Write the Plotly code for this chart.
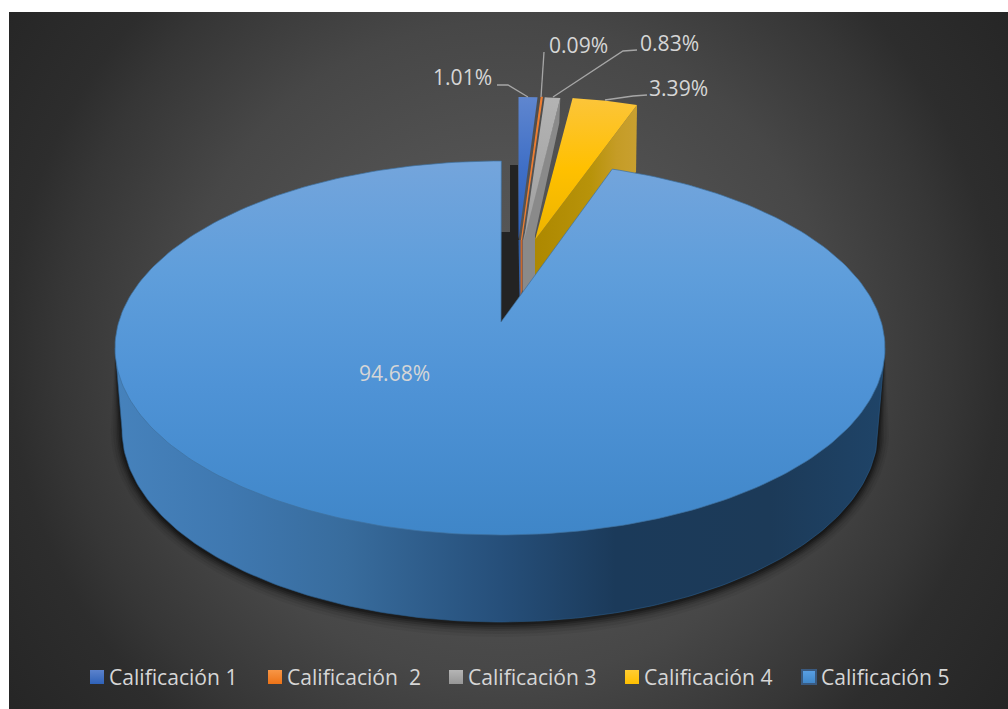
import numpy as np
import plotly.graph_objects as go

categories = ["Calificación 1", "Calificación  2", "Calificación 3", "Calificación 4", "Calificación 5"]
values = [1.01, 0.09, 0.83, 3.39, 94.68]

W, H = 1008, 709
FONT = "Open Sans"
TXT = "#d6d6d6"
FS = 21.1

# pie projection parameters
CX, CY, RX, RY = 500, 348, 385, 187           # top ellipse of the main slice
BCY, BRX, BRY = 430, 378, 192                 # bottom ellipse
MAIN_APEX = (501, 322)
PERSP = 0.885                                  # perspective squeeze of the opening
EXP_RX, EXP_RY = 300, 143                      # far (exploded) slices
GOLD_RX = 311
APEX = [(518.5, 240), (521.5, 240), (524, 240), (535, 240)]
DEPTH = 67

cum = np.cumsum([0] + values) / 100 * 360


def arc(cx, cy, rx, ry, a0, a1, n=120):
    t = np.radians(np.linspace(a0, a1, n))
    return cx + rx * np.sin(t), cy - ry * np.cos(t)


fig = go.Figure()


def poly(xs, ys, color=None, grad=None, gtype="vertical", line=None, lw=0):
    d = dict(x=list(xs) + [xs[0]], y=list(ys) + [ys[0]], mode="lines", fill="toself",
             hoverinfo="skip", showlegend=False,
             line=dict(width=lw, color=line or "rgba(0,0,0,0)"))
    if grad:
        if gtype == "vertical":       # given top to bottom; plotly's 0 is at the bottom
            grad = [[1 - p, c] for p, c in reversed(grad)]
        d["fillgradient"] = dict(type=gtype, colorscale=grad)
    else:
        d["fillcolor"] = color
    fig.add_trace(go.Scatter(**d))


# background: square bounding box gives a circular gradient, clipped by the plot area
BGX, BGY, BGR = 505, 350, 620
poly([BGX - BGR, BGX + BGR, BGX + BGR, BGX - BGR], [BGY - BGR, BGY - BGR, BGY + BGR, BGY + BGR],
     grad=[[0, "#5a5a5a"], [0.3, "#525252"], [0.53, "#474747"], [0.72, "#363636"],
           [0.8, "#2d2d2d"], [1, "#252525"]], gtype="radial")

# soft shadow
for k, a in zip([14, 11, 8, 6, 4, 2], [0.05, 0.08, 0.11, 0.15, 0.2, 0.25]):
    sx, sy = arc(CX, BCY + 1, BRX + k * 0.8, BRY + k, 90, 270)
    poly(np.r_[CX + RX, sx, CX - RX], np.r_[CY, sy, CY], color=f"rgba(0,0,0,{a})")

# shadow strip behind the opening
ax, ay = MAIN_APEX
poly([ax + 9, ax + 17, ax + 19, ax, ax, ax + 9],
     [ay - 157, ay - 157, ay - 25, ay, ay - 90, ay - 90], color="#232323")

# slice 1 (blue)
bx, by = arc(*APEX[0], EXP_RX, EXP_RY, cum[0], cum[1], 6)
poly([APEX[0][0], APEX[0][0] + 1, APEX[0][0] + 4, APEX[0][0] + 4],
     [APEX[0][1], APEX[0][1] + 57, APEX[0][1] + 50, APEX[0][1]], color="#2f5fa8")
poly(np.r_[APEX[0][0], bx], np.r_[APEX[0][1], by],
     grad=[[0, "#5f86cf"], [0.5, "#3f6fc6"], [1, "#2c62be"]])

# slice 3 (gray) side then top
gx, gy = arc(*APEX[2], EXP_RX, EXP_RY, cum[2], cum[3], 6)
poly([gx[-1], gx[-1] - 1, APEX[3][0], APEX[3][0], APEX[2][0] - 1, APEX[2][0] - 1],
     [gy[-1], gy[-1] + 25, APEX[3][1] - 5, APEX[3][1] + 40, APEX[2][1] + 60, APEX[2][1]],
     color="#8a8a8a")
poly(np.r_[APEX[2][0], gx], np.r_[APEX[2][1], gy],
     grad=[[0, "#b3b3b3"], [1, "#a0a0a0"]])

# slice 2 (orange)
ox, oy = arc(*APEX[1], EXP_RX, EXP_RY, cum[1], cum[2], 6)
poly([APEX[1][0] - 1, APEX[1][0] - 1, APEX[1][0] + 1, APEX[1][0] + 1],
     [APEX[1][1], APEX[1][1] + 56, APEX[1][1] + 50, APEX[1][1]], color="#c8692a")
poly(np.r_[APEX[1][0], ox], np.r_[APEX[1][1], oy], color="#ed7d31", line="#ed7d31", lw=1.2)

# slice 4 (gold) side then top
yx, yy = arc(*APEX[3], GOLD_RX, EXP_RY, cum[3], cum[4], 40)
poly([yx[-1], yx[-1] - 1, APEX[3][0], APEX[3][0]],
     [yy[-1], yy[-1] + DEPTH, APEX[3][1] + DEPTH, APEX[3][1]],
     grad=[[0, "#ad8800"], [0.55, "#b8930a"], [0.8, "#c59c26"], [1, "#c9a030"]], gtype="horizontal")
poly(np.r_[APEX[3][0], yx], np.r_[APEX[3][1], yy],
     grad=[[0, "#fcc53a"], [0.5, "#ffc000"], [1, "#ecb400"]])

# main slice: outer wall
lx, ly = arc(CX, BCY, BRX, BRY, 90, 270, 180)
poly(np.r_[CX + RX, lx, CX - RX], np.r_[CY, ly, CY],
     grad=[[0, "#4682bc"], [0.15, "#3f78b0"], [0.3, "#386c9d"], [0.5, "#264f7a"],
           [0.65, "#1b3a5a"], [0.85, "#1c3a58"], [1, "#1f4468"]], gtype="horizontal",
     line="#2a5a88", lw=0.6)

# main slice: top
start = cum[4] * PERSP
mx, my = arc(CX, CY, RX, RY, start, 360.2, 300)
poly(np.r_[ax, mx], np.r_[ay, my],
     grad=[[0, "#74a5dc"], [0.3, "#5f9edb"], [0.6, "#4f93d6"], [1, "#3f86c8"]],
     line="#3f719f", lw=0.7)

# leader lines
leaders = [
    ([497, 508, 528], [85, 85, 97]),
    ([544, 541], [52, 97]),
    ([637, 623, 553], [50, 51, 97]),
    ([647, 633, 605], [95, 96, 100]),
]
for xs, ys in leaders:
    fig.add_trace(go.Scatter(x=xs, y=ys, mode="lines", hoverinfo="skip", showlegend=False,
                             line=dict(color="#a6a6a6", width=1.3)))

# data labels
label_pos = [(462, 77), (578, 45), (669, 43), (678, 88), (394, 372)]
for v, (x, y) in zip(values, label_pos):
    fig.add_annotation(x=x, y=y, text=f"{v:.2f}%", showarrow=False,
                       font=dict(family=FONT, size=FS, color=TXT))

# legend
swatch_x = [97, 275, 456, 632, 809]
swatch_grad = [("#5b82cc", "#2f62b8"), ("#f79646", "#ed7317"), ("#b5b5b5", "#969696"),
               ("#ffcc33", "#ffbf00"), ("#5aa0e4", "#3f86c8")]
LEG_Y = 676
for c, sx, (c1, c2), i in zip(categories, swatch_x, swatch_grad, range(5)):
    fig.add_trace(go.Scatter(
        x=[sx], y=[LEG_Y + 1], mode="markers", showlegend=False, hoverinfo="skip", name=c,
        marker=dict(symbol="square", size=14, color=c1,
                    gradient=dict(type="vertical", color=c2),
                    line=dict(width=2 if i == 4 else 0, color="#3a5a80"))))
    fig.add_annotation(x=sx + 10, y=LEG_Y, text=c, showarrow=False, xanchor="left",
                       font=dict(family=FONT, size=FS, color=TXT))

fig.update_layout(
    width=W, height=H, margin=dict(l=0, r=0, t=0, b=0), paper_bgcolor="#ffffff",
    plot_bgcolor="#ffffff", showlegend=False,
    xaxis=dict(domain=[9 / W, 1], range=[9, W], visible=False, fixedrange=True),
    yaxis=dict(domain=[0, 1 - 12 / H], range=[H, 12], visible=False, fixedrange=True),
)
fig.write_html("out.html", config={"displayModeBar": False},
               post_script="document.body.style.margin='0';document.body.style.overflow='hidden';")
